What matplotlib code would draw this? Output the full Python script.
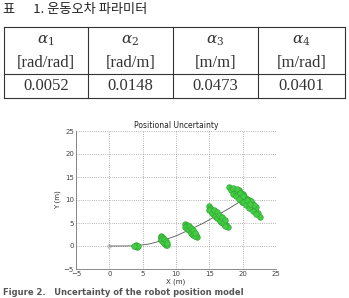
import matplotlib.pyplot as plt

# table data
tbl_caption = '표      1. 운동오차 파라미터'
tbl_names = [r'$\alpha_1$', r'$\alpha_2$', r'$\alpha_3$', r'$\alpha_4$']
tbl_units = ['[rad/rad]', '[rad/m]', '[m/m]', '[m/rad]']
tbl_values = ['0.0052', '0.0148', '0.0473', '0.0401']

# path of the robot
path_x = [0, 2, 4, 6, 8, 10, 12, 14, 16, 18, 20]
path_y = [0, 0.0, 0.05, 0.45, 1.2, 2.2, 3.5, 4.9, 6.5, 8.2, 10.0]

# sample clouds
c1_x = [3.8, 4.0, 4.2, 4.1, 3.9, 4.0, 4.3, 3.7]
c1_y = [0.0, 0.2, 0.1, -0.2, -0.1, 0.0, -0.1, 0.1]
c2_x = [7.8, 7.9, 8.0, 8.1, 8.2, 8.3, 8.4, 8.5, 7.9, 8.1, 8.3, 8.0, 8.2, 8.4, 7.7, 8.6,
        7.7, 7.8, 8.0, 8.2, 8.5, 8.6]
c2_y = [2.2, 1.9, 1.6, 1.3, 1.0, 0.7, 0.5, 0.2, 1.5, 1.8, 1.1, 1.1, 0.6, 0.9, 2.0, 0.3,
        1.6, 1.2, 0.8, 1.5, 1.0, 0.7]
c3_x = [11.4, 11.6, 11.8, 11.9, 12.1, 12.2, 12.4, 12.5, 12.7, 12.9, 13.1, 11.7, 12.0, 12.3, 12.6,
        12.8, 11.5, 12.1, 12.4, 13.0, 11.3, 11.6, 11.9, 12.2, 12.5, 12.8, 12.0, 12.3, 12.6, 12.9]
c3_y = [4.8, 4.5, 4.2, 3.8, 3.6, 3.3, 3.0, 2.7, 2.4, 2.1, 1.9, 4.0, 4.1, 3.6, 3.1, 2.7, 4.3, 3.2,
        2.6, 2.5, 4.2, 3.7, 3.4, 2.9, 2.5, 2.2, 4.4, 3.9, 3.4, 2.9]
c4_x = [14.9, 15.1, 15.3, 15.5, 15.7, 15.9, 16.1, 16.3, 16.5, 16.7, 16.9, 17.1, 17.3, 17.5, 17.8,
        15.4, 15.8, 16.2, 16.6, 17.0, 15.6, 16.0, 16.4, 16.8, 17.2, 15.0, 15.4, 15.8, 16.2, 16.6,
        17.0, 17.4, 15.7, 16.1, 16.5, 16.9, 17.3]
c4_y = [8.6, 8.3, 8.0, 7.6, 7.3, 7.0, 6.7, 6.3, 6.0, 5.7, 5.4, 5.1, 4.8, 4.6, 4.2, 7.4, 7.6, 6.9,
        6.4, 5.9, 6.9, 6.3, 5.8, 5.2, 4.8, 7.9, 7.2, 6.6, 6.0, 5.4, 4.9, 4.4, 7.9, 7.3, 6.7, 6.2,
        5.6]
c5_x = [18.0, 18.4, 18.8, 19.0, 19.3, 19.5, 19.8, 20.0, 20.2, 20.5, 20.8, 21.0, 21.3, 21.6, 21.9,
        22.3, 22.6, 18.7, 19.2, 19.7, 20.3, 20.7, 21.2, 21.5, 19.9, 20.6, 18.3, 21.8, 19.4, 20.1,
        20.9, 21.4, 22.0, 18.5, 19.0, 19.5, 20.0, 20.5, 21.0, 21.5, 22.0, 19.2, 19.7, 20.2, 20.7,
        21.2, 21.7, 18.6, 19.1, 19.6, 20.1, 20.6, 21.1]
c5_y = [12.8, 12.4, 12.0, 11.3, 11.5, 10.7, 10.9, 10.0, 10.4, 9.4, 9.6, 8.8, 8.6, 8.0, 7.6, 7.2,
        6.3, 11.9, 11.8, 11.0, 9.9, 9.2, 8.3, 8.9, 9.6, 10.3, 12.1, 7.9, 12.2, 11.2, 10.1, 9.4, 8.4,
        11.4, 10.8, 10.2, 9.6, 9.0, 8.3, 7.7, 7.0, 12.0, 11.5, 10.9, 10.2, 9.8, 9.0, 12.6, 12.3,
        11.6, 10.8, 10.0, 9.1]

W, H = 349.0, 298.0
fig = plt.figure(figsize=(W / 100, H / 100), dpi=100)

kr = ['Noto Sans CJK KR', 'DejaVu Sans']
fig.text(3 / W, 1 - 9 / H, tbl_caption, family=kr, fontsize=9.5, va='center', ha='left',
         color='#222222')

# table lines
col_edges = [4, 88, 173, 258, 345]
row_top, row_mid, row_bot = 27, 74, 98
for yy in [row_top, row_mid, row_bot]:
    fig.add_artist(plt.Line2D([col_edges[0] / W, col_edges[-1] / W], [1 - yy / H, 1 - yy / H],
                              color='#333333', lw=0.8))
for xx in col_edges:
    fig.add_artist(plt.Line2D([xx / W, xx / W], [1 - row_top / H, 1 - row_bot / H],
                              color='#333333', lw=0.8))
for i in range(4):
    cx = (col_edges[i] + col_edges[i + 1]) / 2 / W
    fig.text(cx, 1 - 41 / H, tbl_names[i], ha='center', va='center', fontsize=11,
             color='#333333', math_fontfamily='dejavuserif')
    fig.text(cx, 1 - 63 / H, tbl_units[i], ha='center', va='center', fontsize=12,
             family='Liberation Serif', color='#333333')
    fig.text(cx, 1 - 86 / H, tbl_values[i], ha='center', va='center', fontsize=12,
             family='Liberation Serif', color='#333333')

# chart
ax = fig.add_axes([76 / W, 1 - 269 / H, 200 / W, 138 / H])
ax.plot(path_x, path_y, color='#555555', lw=0.6)
ax.plot([0], [0], 'o', ms=2.5, mfc='none', mec='#999999', mew=0.5)
for cx_, cy_ in [(c1_x, c1_y), (c2_x, c2_y), (c3_x, c3_y), (c4_x, c4_y), (c5_x, c5_y)]:
    ax.plot(cx_, cy_, 'o', ms=4, mfc='#44cc44', mec='#33aa33', mew=0.5, ls='none')
ax.set_xlim(-5, 25)
ax.set_ylim(-5, 25)
ax.set_xticks(range(-5, 26, 5))
ax.set_yticks(range(-5, 26, 5))
ax.grid(True, ls=':', color='#999999', lw=0.6)
for s in ['top', 'right']:
    ax.spines[s].set_visible(False)
for s in ['left', 'bottom']:
    ax.spines[s].set_color('#777777')
    ax.spines[s].set_linewidth(0.6)
ax.tick_params(labelsize=5, length=0, pad=1.5, colors='#444444')
ax.set_title('Positional Uncertainty', fontsize=5.5, pad=2, color='#222222')
ax.set_xlabel('X (m)', fontsize=5, labelpad=1, color='#333333')
ax.set_ylabel('Y (m)', fontsize=5, labelpad=2, color='#333333')

fig.text(3 / W, 1 / H, 'Figure 2.   Uncertainty of the robot position model', fontsize=6,
         fontweight='bold', color='#555555', ha='left', va='bottom')

fig.savefig('out.png', dpi=100)
